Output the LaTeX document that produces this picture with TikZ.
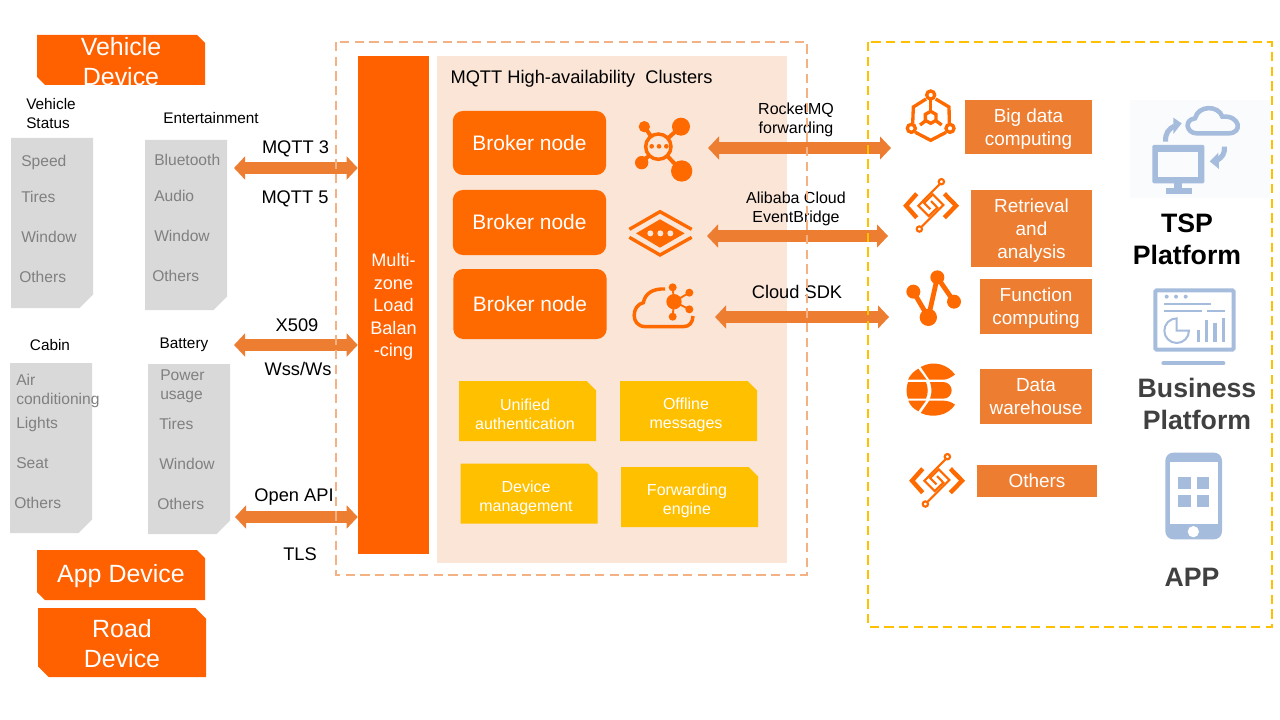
\documentclass[tikz,border=0pt]{standalone}
\usepackage{fontspec}
\setmainfont{Liberation Sans}
\usetikzlibrary{arrows.meta}
\definecolor{vivid}{HTML}{FF6000}
\definecolor{brand}{HTML}{FF6A00}
\definecolor{accent}{HTML}{ED7D31}
\definecolor{amber}{HTML}{FFC000}
\definecolor{peach}{HTML}{FBE5D6}
\definecolor{frameline}{HTML}{F4B183}
\definecolor{steel}{HTML}{A6BCDD}
\definecolor{paleback}{HTML}{FAFBFD}
\begin{document}
\begin{tikzpicture}[
    x=0.75pt,
    y=-0.75pt,
    cornerbox/.style={
        inner sep=0pt,
        outer sep=0pt
    },
    devbox/.style={
        cornerbox,
        minimum width=126pt,
        path picture={
            \fill[vivid] (path picture bounding box.north west)
                -- ([xshift=-#1]path picture bounding box.north east)
                -- ([yshift=-#1]path picture bounding box.north east)
                -- (path picture bounding box.south east)
                -- ([xshift=#1]path picture bounding box.south west)
                -- ([yshift=#1]path picture bounding box.south west) -- cycle;
        }
    },
    devtext/.style={
        text=white,
        align=center,
        inner sep=0pt,
        font=\fontsize{18.7}{22.5}\selectfont
    },
    graycard/.style={
        cornerbox,
        minimum width=61.5pt,
        minimum height=127.5pt,
        path picture={
            \fill[black!15] (path picture bounding box.north west)
                -- (path picture bounding box.north east)
                -- ([yshift=10pt]path picture bounding box.south east)
                -- ([xshift=-10pt]path picture bounding box.south east)
                -- (path picture bounding box.south west) -- cycle;
        }
    },
    cardhead/.style={
        inner sep=0pt,
        align=left,
        font=\fontsize{11.5}{14.25}\selectfont
    },
    item/.style={
        anchor=west,
        inner sep=0pt,
        align=left,
        text=black!50,
        font=\fontsize{11.7}{14.25}\selectfont
    },
    proto/.style={
        inner sep=0pt,
        align=center,
        font=\fontsize{13.7}{17}\selectfont
    },
    fwd/.style={
        inner sep=0pt,
        align=center,
        font=\fontsize{12}{14}\selectfont
    },
    broker/.style={
        fill=brand,
        rounded corners=7.5pt,
        text=white,
        minimum width=115pt,
        font=\fontsize{15.7}{19}\selectfont
    },
    feature/.style={
        cornerbox,
        minimum width=102.75pt,
        minimum height=45pt,
        path picture={
            \fill[amber] (path picture bounding box.north west)
                -- ([xshift=-7pt]path picture bounding box.north east)
                -- ([yshift=-7pt]path picture bounding box.north east)
                -- (path picture bounding box.south east)
                -- (path picture bounding box.south west) -- cycle;
        }
    },
    featuretext/.style={
        text=white,
        align=center,
        inner sep=0pt,
        font=\fontsize{12}{14.25}\selectfont
    },
    service/.style={
        fill=accent,
        text=white,
        align=center,
        inner sep=0pt,
        font=\fontsize{14.2}{17.25}\selectfont
    },
    platform/.style={
        inner sep=0pt,
        align=center,
        font=\fontsize{20}{24}\selectfont\bfseries
    },
    link/.style={
        accent,
        line width=8.5pt,
        {Triangle[length=8.25pt,width=17pt]}-{Triangle[length=8.25pt,width=17pt]}
    },
    zoomed/.style={
        x=0.25pt,
        y=-0.25pt
    },
    circuiticon/.pic={
        \begin{scope}[zoomed, brand]
            \draw[line width=3.3pt] (-42,-36) -- (-74,0) -- (-42,36);
            \draw[line width=3.3pt] (41,-36) -- (76,0) -- (41,36);
            \draw[line width=1.6pt] (32,-72) circle [radius=8];
            \draw[line width=1.6pt] (-34,70) circle [radius=8];
            \draw[line width=1.6pt] (26,-64) -- (-37,0) -- (-6,31) -- (20,6) -- (1,-14);
            \draw[line width=1.6pt] (-27,63) -- (38,-2) -- (6,-34) -- (-20,-8) -- (-1,11);
        \end{scope}
    }
]
    \useasboundingbox (0,0) rectangle (1280,720);

    % --- Backdrop of the clusters ---
    \fill[peach] (437,56) rectangle (787,563);

    % --- Device boxes ---
    \node[devbox=6pt, minimum height=37.5pt] (vehicle) at (121,60) {};
    \node[devtext] (vehicletxt) at (121,62) {Vehicle\\Device};
    \node[devbox=6pt, minimum height=37.5pt] (appdev) at (121,575) {};
    \node[devtext] (apptxt) at (121,576) {App Device};
    \node[devbox=8pt, minimum height=51.75pt] (roaddev) at (122,642.5) {};
    \node[devtext] (roadtxt) at (122,643.5) {Road\\Device};

    % --- Vehicle Status ---
    \node[cardhead, anchor=west] (statushead) at (26,113.5) {Vehicle\\Status};
    \node[graycard] (statuscard) at (52,223) {};
    \node[item] (status1) at (21,162) {Speed};
    \node[item] (status2) at (21,197) {Tires};
    \node[item] (status3) at (21,237) {Window};
    \node[item] (status4) at (19,277) {Others};

    % --- Entertainment ---
    \node[cardhead] (enthead) at (211,118) {Entertainment};
    \node[graycard] (entcard) at (186,225) {};
    \node[item] (ent1) at (154,160) {Bluetooth};
    \node[item] (ent2) at (154,196) {Audio};
    \node[item] (ent3) at (154,236) {Window};
    \node[item] (ent4) at (152,276) {Others};

    % --- Cabin ---
    \node[cardhead] (cabinhead) at (50,345) {Cabin};
    \node[graycard] (cabincard) at (51,448) {};
    \node[item] (cabin1) at (16,390.5) {Air\\conditioning};
    \node[item] (cabin2) at (16,424) {Lights};
    \node[item] (cabin3) at (16,463) {Seat};
    \node[item] (cabin4) at (14,503) {Others};

    % --- Battery ---
    \node[cardhead] (batteryhead) at (184,345) {Battery};
    \node[graycard] (batterycard) at (189,449) {};
    \node[item] (battery1) at (160,386.5) {Power\\usage};
    \node[item] (battery2) at (159,424) {Tires};
    \node[item] (battery3) at (159,464) {Window};
    \node[item] (battery4) at (157,504) {Others};

    % --- Load balancer ---
    \node[fill=vivid, text=white, align=center, inner sep=0pt, text depth=-1.5pt,
          minimum width=53.25pt, minimum height=373.5pt,
          font=\fontsize{13.6}{16.9}\selectfont] (balancer) at (393.5,305) {Multi-\\zone\\Load\\Balan\\-cing};

    % --- Broker nodes ---
    \node[broker, minimum height=48pt] (broker1) at (529.5,143) {Broker node};
    \node[broker, minimum height=48.75pt] (broker2) at (529.5,222.5) {Broker node};
    \node[broker, minimum height=52.5pt] (broker3) at (530,304) {Broker node};
    \node[inner sep=0pt, font=\fontsize{13.7}{17}\selectfont] (clusterhead) at (581.5,79) {MQTT High-availability\ \ Clusters};

    % --- Features ---
    \node[feature] (feature1) at (527.5,411) {};
    \node[featuretext] (featuretxt1) at (525,414) {Unified\\authentication};
    \node[feature] (feature2) at (688.5,411) {};
    \node[featuretext] (featuretxt2) at (686,415) {Offline\\messages};
    \node[feature] (feature3) at (529,493.5) {};
    \node[featuretext] (featuretxt3) at (526,497.5) {Device\\management};
    \node[feature] (feature4) at (689.5,497) {};
    \node[featuretext] (featuretxt4) at (687,501) {Forwarding\\engine};

    % --- Protocol arrows, left ---
    \coordinate (mqttend) at (234,168);
    \coordinate (x509end) at (234,345);
    \coordinate (apiend) at (235,517);
    \draw[link] (mqttend) -- (mqttend -| balancer.west);
    \draw[link] (x509end) -- (x509end -| balancer.west);
    \draw[link] (apiend) -- (apiend -| balancer.west);
    \node[proto] (mqtt3) at (295.5,149) {MQTT 3};
    \node[proto] (mqtt5) at (295,199) {MQTT 5};
    \node[proto] (x509) at (297,325) {X509};
    \node[proto] (wss) at (298,369) {Wss/Ws};
    \node[proto] (openapi) at (294,497) {Open API};
    \node[proto] (tls) at (300,554) {TLS};

    % --- Forwarding arrows, right ---
    \coordinate (rocketa) at (708,148);
    \coordinate (rocketb) at (891,148);
    \coordinate (bridgea) at (707,236);
    \coordinate (bridgeb) at (888,236);
    \coordinate (sdka) at (715,317);
    \coordinate (sdkb) at (889,317);
    \draw[link] (rocketa) -- (rocketb);
    \draw[link] (bridgea) -- (bridgeb);
    \draw[link] (sdka) -- (sdkb);
    \node[fwd] (rocket) at (796,120) {RocketMQ\\forwarding};
    \node[fwd] (bridge) at (796,209) {Alibaba Cloud\\EventBridge};
    \node[proto] (sdk) at (797,292) {Cloud SDK};

    % --- Dashed frames ---
    \draw[frameline, line width=1.2pt, dash pattern=on 7pt off 4pt] (336,42) rectangle (807,575);
    \draw[amber, line width=1.4pt, dash pattern=on 7pt off 4pt] (868,42) rectangle (1272,627);

    % --- Icons next to the brokers ---
    \begin{scope}[shift={(600,80)}, zoomed, brand]
        \draw[line width=3pt] (175,200) -- (243,140);
        \draw[line width=3pt] (175,200) -- (245,273);
        \draw[line width=3pt] (175,200) -- (133,140);
        \draw[line width=3pt] (175,200) -- (125,248);
        \fill (243,140) circle [radius=27];
        \fill (245,273) circle [radius=32];
        \fill (133,140) circle [radius=17];
        \fill (125,248) circle [radius=20];
        \draw[line width=2.6pt, fill=peach] (175,200) circle [radius=38];
        \fill (155,199) circle [radius=7];
        \fill (177,199) circle [radius=7];
        \fill (199,199) circle [radius=7];

        \draw[line width=2.5pt] (88,448) -- (180,395) -- (275,448);
        \draw[line width=2.5pt] (88,472) -- (180,525) -- (275,472);
        \fill (108,460) -- (180,418) -- (254,460) -- (180,503) -- cycle;
        \fill[peach] (151,460) circle [radius=9];
        \fill[peach] (181,460) circle [radius=9];
        \fill[peach] (211,460) circle [radius=9];

        \draw[line width=2.6pt] (195,627) .. controls (160,625) and (135,640) .. (130,668)
            .. controls (95,675) and (90,738) .. (135,740) -- (250,740) .. controls (268,740) and (278,728) .. (279,708);
        \draw[line width=1.4pt] (222,665) -- (218,622);
        \draw[line width=1.4pt] (222,665) -- (268,638);
        \draw[line width=1.4pt] (222,665) -- (268,688);
        \draw[line width=1.4pt] (222,665) -- (218,710);
        \fill (222,665) circle [radius=23];
        \fill (218,622) circle [radius=12];
        \fill (268,638) circle [radius=12];
        \fill (268,688) circle [radius=12];
        \fill (218,710) circle [radius=12];
    \end{scope}

    % --- Service boxes ---
    \node[service, text depth=-1pt, minimum width=95.25pt, minimum height=40.5pt] (bigdata) at (1028.5,127) {Big data\\computing};
    \node[service, text depth=0pt, minimum width=90.75pt, minimum height=57.75pt] (retrieval) at (1031.5,228.5) {Retrieval\\and\\analysis};
    \node[service, text depth=-1pt, minimum width=84pt, minimum height=41.25pt] (function) at (1036,306.5) {Function\\computing};
    \node[service, text depth=-3pt, minimum width=84pt, minimum height=41.25pt] (warehouse) at (1036,396.5) {Data\\warehouse};
    \node[service, minimum width=90pt, minimum height=24pt] (others) at (1037,481) {Others};

    % --- Service icons ---
    \begin{scope}[shift={(900,85)}, zoomed, brand, line width=2.5pt]
        \draw (92,30) circle [radius=12];
        \draw (34,130) circle [radius=12];
        \draw (150,130) circle [radius=12];
        \draw (78,42) -- (40,66) -- (38,116);
        \draw (107,42) -- (147,66) -- (148,116);
        \draw (46,142) -- (92,166) -- (138,142);
        \draw (92,44) -- (92,79);
        \draw (60,120) -- (76,108);
        \draw (125,120) -- (109,108);
        \draw (92,79) -- (108,88) -- (108,106) -- (92,115) -- (76,106) -- (76,88) -- cycle;
    \end{scope}
    \pic at (930.7,205.7) {circuiticon};
    \pic at (936.7,480.7) {circuiticon};
    \begin{scope}[shift={(890,80)}, zoomed, brand]
        \draw[line width=3.6pt, line join=round] (70,635) -- (115,712) -- (142,592) -- (192,665);
        \fill (70,635) circle [radius=21];
        \fill (142,592) circle [radius=21];
        \fill (192,665) circle [radius=21];
        \fill (115,712) circle [radius=26];
    \end{scope}
    \begin{scope}[shift={(900,358)}, zoomed, brand]
        \fill (62,27) .. controls (100,5) and (145,20) .. (165,50) .. controls (150,60) and (140,65) .. (130,65) -- (88,65) -- cycle;
        \fill (55,32) -- (80,65) -- (24,65) .. controls (30,52) and (40,40) .. (55,32) -- cycle;
        \fill (24,72) -- (78,72) .. controls (85,90) and (85,105) .. (78,122) -- (24,122) .. controls (18,105) and (18,90) .. (24,72) -- cycle;
        \fill (90,72) -- (130,72) .. controls (145,72) and (155,85) .. (155,97) .. controls (155,110) and (145,122) .. (130,122) -- (90,122) .. controls (96,105) and (96,90) .. (90,72) -- cycle;
        \fill (25,128) -- (78,128) -- (55,160) .. controls (40,152) and (30,142) .. (25,128) -- cycle;
        \fill (88,128) -- (130,128) .. controls (142,128) and (155,132) .. (165,140) .. controls (145,172) and (100,182) .. (62,165) -- cycle;
    \end{scope}

    % --- TSP icon and platform names ---
    \fill[paleback] (1130,100) rectangle (1270,198);
    \begin{scope}[shift={(1145,100)}, zoomed, steel]
        \fill[rounded corners=1pt] (22,135) rectangle (178,250);
        \fill[paleback] (40,155) rectangle (160,232);
        \fill (88,250) rectangle (112,265);
        \fill (62,263) rectangle (140,282);
        \draw[line width=3.4pt] (155,100) .. controls (125,100) and (115,60) .. (150,55)
            .. controls (160,15) and (220,15) .. (232,50) .. controls (285,45) and (295,100) .. (250,100) -- cycle;
        \draw[line width=3.8pt] (62,125) .. controls (60,100) and (70,88) .. (88,78);
        \fill (85,53) -- (110,70) -- (85,102) -- cycle;
        \draw[line width=3.8pt] (238,140) .. controls (240,160) and (232,172) .. (215,182);
        \fill (220,158) -- (194,184) -- (222,207) -- cycle;
    \end{scope}
    \node[platform] (tsp) at (1187,239) {TSP\\Platform};

    \begin{scope}[shift={(1120,90)}, zoomed, steel]
        \draw[line width=3pt, fill=white, rounded corners=1pt] (106,601) rectangle (341,779);
        \draw[line width=3pt, line cap=round] (130,820) -- (310,820);
        \fill (140,620) circle [radius=6];
        \fill (168,620) circle [radius=6];
        \fill (197,620) circle [radius=6];
        \draw[line width=1.6pt] (133,642) -- (272,642);
        \draw[line width=1.6pt] (133,662) -- (245,662);
        \draw[line width=1.6pt] (262,662) -- (315,662);
        \draw[line width=1.5pt] (170,685) arc [start angle=270, end angle=0, radius=37] -- (170,722) -- cycle;
        \draw[line width=2.3pt] (235,720) -- (235,755);
        \draw[line width=2.3pt] (260,690) -- (260,755);
        \draw[line width=2.3pt] (285,700) -- (285,755);
        \draw[line width=2.3pt] (310,685) -- (310,755);

        \fill[rounded corners=6pt] (136,1088) rectangle (306,1348);
        \fill[white] (150,1116) rectangle (293,1302);
        \fill[white] (220,1325) circle [radius=17];
        \fill (175,1162) rectangle (213,1198);
        \fill (230,1162) rectangle (267,1198);
        \fill (175,1215) rectangle (213,1252);
        \fill (230,1215) rectangle (267,1252);
    \end{scope}
    \node[platform, text=black!75] (business) at (1197,404) {Business\\Platform};
    \node[platform, text=black!75] (app) at (1192,577) {APP};
\end{tikzpicture}
\end{document}
